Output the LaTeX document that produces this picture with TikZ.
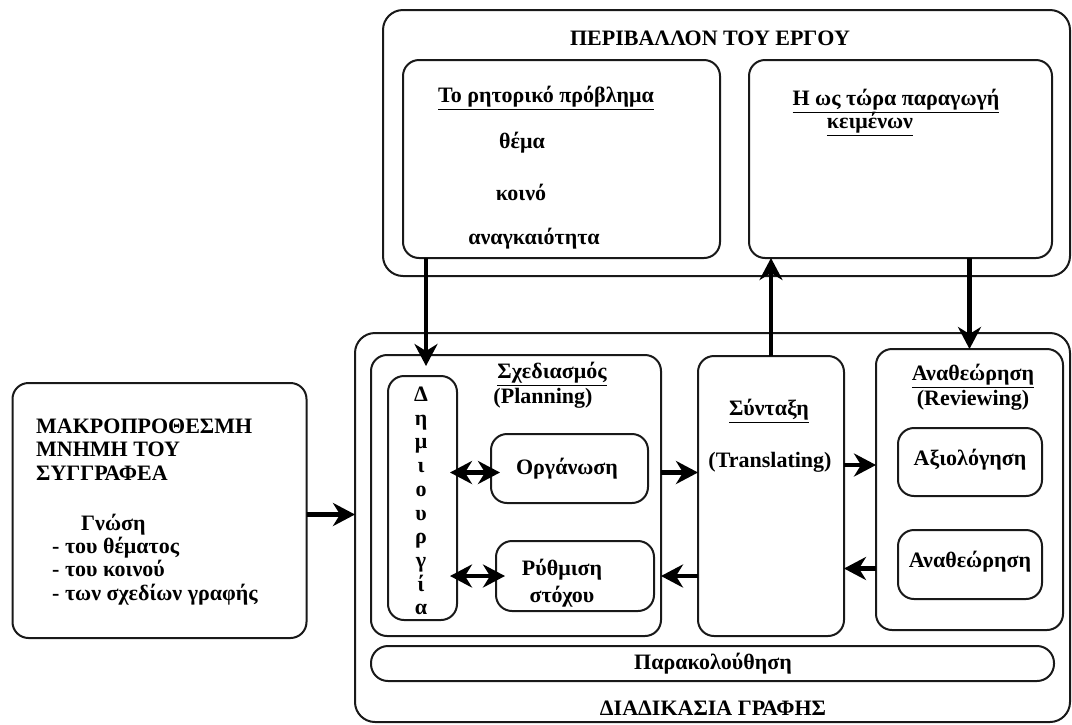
\documentclass[tikz,border=0pt]{standalone}
\usepackage{fontspec}
\setmainfont{Liberation Serif}
\usetikzlibrary{arrows.meta}
\begin{document}
\begin{tikzpicture}[x=1pt,y=-1pt,
  box/.style={draw=black!90, line width=2pt, rounded corners=16pt, inner sep=0pt, outer sep=0pt},
  txt/.style={font=\fontsize{22}{26}\selectfont\bfseries, inner sep=0pt},
  tip/.tip={Stealth[length=22pt,width=23pt,inset=7pt]},
  arr/.style={line width=4.8pt, -tip},
  darr/.style={line width=4.8pt, tip-tip, shorten <=-7pt, shorten >=-9pt}]
\useasboundingbox (0,0) rectangle (1072,724);

% task environment
\node[box, minimum width=687pt, minimum height=266pt, rounded corners=20pt] (env) at (726.5,143) {};
\node[box, minimum width=317pt, minimum height=198pt] (rhet) at (561.5,159) {};
\node[box, minimum width=303pt, minimum height=198pt] (sofar) at (900.5,159) {};

% writing process
\node[box, minimum width=715pt, minimum height=389pt, rounded corners=20pt] (proc) at (712.5,527.5) {};
\node[box, minimum width=290pt, minimum height=281pt] (plan) at (516,495.5) {};
\node[box, minimum width=69pt, minimum height=244pt] (dim) at (422.5,498) {};
\node[box, minimum width=157pt, minimum height=69pt] (org) at (569.5,468.5) {};
\node[box, minimum width=158pt, minimum height=70pt] (goal) at (575,576) {};
\node[box, minimum width=146pt, minimum height=280pt] (trans) at (771,496) {};
\node[box, minimum width=187pt, minimum height=281pt] (rev) at (969.5,489.5) {};
\node[box, minimum width=144pt, minimum height=68pt] (eval) at (970,462) {};
\node[box, minimum width=144pt, minimum height=69pt] (revise) at (970,564.5) {};
\node[box, minimum width=683pt, minimum height=35pt, rounded corners=17pt] (mon) at (712.5,663.5) {};

% long-term memory
\node[box, minimum width=294pt, minimum height=255pt] (mem) at (159.5,510.5) {};

% labels
\node[txt] (envT) at (710,38) {ΠΕΡΙΒΑΛΛΟΝ ΤΟΥ ΕΡΓΟΥ};
\node[txt] (rhetT) at (546,98) {\underline{Το ρητορικό πρόβλημα}};
\node[txt] (themeT) at (522,143) {θέμα};
\node[txt] (audT) at (521,192) {κοινό};
\node[txt] (needT) at (534,239) {αναγκαιότητα};
\node[txt] (sofarT1) at (896,101) {\underline{Η ως τώρα παραγωγή}};
\node[txt] (sofarT2) at (870,124) {\underline{κειμένων}};

\node[txt] (planT1) at (552,374) {\underline{Σχεδιασμός}};
\node[txt] (planT2) at (543,398) {(Planning)};
\node[txt, align=center, font=\fontsize{22}{23.7}\selectfont\bfseries] (dimT) at (421,501)
  {Δ\\η\\μ\\ι\\ο\\υ\\ρ\\γ\\ί\\α};
\node[txt] (orgT) at (567,469) {Οργάνωση};
\node[txt, align=center, font=\fontsize{22}{27}\selectfont\bfseries] (goalT) at (562,583) {Ρύθμιση\\στόχου};
\node[txt] (transT1) at (769,411) {\underline{Σύνταξη}};
\node[txt] (transT2) at (770,462) {(Translating)};
\node[txt] (revT1) at (973,376) {\underline{Αναθεώρηση}};
\node[txt] (revT2) at (973,400) {(Reviewing)};
\node[txt] (evalT) at (970,460) {Αξιολόγηση};
\node[txt] (reviseT) at (970,562) {Αναθεώρηση};
\node[txt] (monT) at (713,664) {Παρακολούθηση};
\node[txt] (procT) at (713,708) {ΔΙΑΔΙΚΑΣΙΑ ΓΡΑΦΗΣ};

\node[txt, anchor=base west] (memT1) at (36,433) {ΜΑΚΡΟΠΡΟΘΕΣΜΗ};
\node[txt, anchor=base west] (memT2) at (36,456.5) {ΜΝΗΜΗ ΤΟΥ};
\node[txt, anchor=base west] (memT3) at (36,480) {ΣΥΓΓΡΑΦΕΑ};
\node[txt, anchor=base west] (knowT) at (81,530) {Γνώση};
\node[txt, anchor=base west] (know1) at (52,553) {- του θέματος};
\node[txt, anchor=base west] (know2) at (52,576.5) {- του κοινού};
\node[txt, anchor=base west] (know3) at (52,600) {- των σχεδίων γραφής};

% connectors
\coordinate (xr) at (426,0);
\draw[arr] ([yshift=-4pt]mem.east) -- ([yshift=-4pt]mem.east -| proc.west);
\draw[arr, shorten >=10pt] (rhet.south -| xr) -- (dim.north -| xr);
\draw[arr] (trans.north) -- (trans.north |- sofar.south);
\draw[arr] (rev.north |- sofar.south) -- (rev.north);
\draw[darr] ([yshift=-4pt]org.west -| dim.east) -- ([yshift=-4pt]org.west);
\draw[darr] (goal.west -| dim.east) -- (goal.west);
\draw[arr] ([yshift=-4pt]org.east -| plan.east) -- ([yshift=-4pt]org.east -| trans.west);
\draw[arr] (goal.east -| trans.west) -- (goal.east -| plan.east);
\draw[arr] ([yshift=-3pt]eval.west -| trans.east) -- ([yshift=-3pt]eval.west -| rev.west);
\draw[arr] ([yshift=-4pt]revise.west -| rev.west) -- ([yshift=-4pt]revise.west -| trans.east);
\end{tikzpicture}
\end{document}
